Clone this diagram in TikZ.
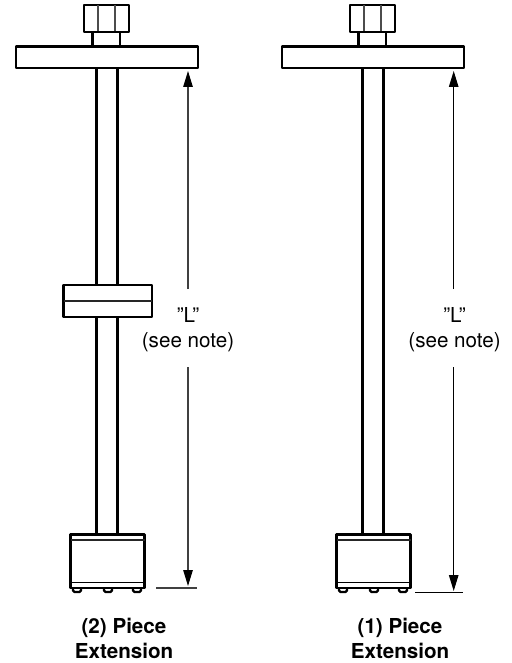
\documentclass[tikz,border=0pt]{standalone}
\usepackage{fontspec}
\setmainfont[Ligatures=NoCommon]{TeX Gyre Heros}
\usetikzlibrary{arrows.meta}
\tikzset{
  heavy/.style={draw=black,line width=2.3pt,line join=round,fill=white},
  nutline/.style={draw=black!70,line width=1.3pt},
  seam/.style={draw=black!85,line width=1.5pt},
  footline/.style={draw=black,line width=1.7pt},
  dimline/.style={draw=black!75,line width=1.1pt},
  dimarrow/.style={dimline,-{Triangle[length=16pt,width=9.5pt,black]}},
  dimarrowdark/.style={draw=black,line width=1.1pt,-{Triangle[length=16pt,width=9.5pt,black]}},
  dimtext/.style={align=center,font=\fontsize{20.6}{24.5}\selectfont,inner sep=0pt,text=black},
  captiontext/.style={align=center,font=\fontsize{20.6}{25}\selectfont\bfseries,inner sep=0pt,text=black},
}
\newcommand{\extension}[1]{%
  \begin{scope}[shift={(#1,0)}]
    \draw[heavy] (84,5) rectangle (129,32);
    \draw[nutline] (98,5) -- (98,32) (115,5) -- (115,32);
    \draw[heavy] (92.5,32) rectangle (120,46.5);
    \draw[heavy] (16,46.5) rectangle (198,68);
    \draw[heavy] (96.5,68) rectangle (117.5,534.5);
    \draw[heavy,rounded corners=1.5pt] (73,586) rectangle (81,592);
    \draw[heavy,rounded corners=1.5pt] (104,586) rectangle (112,592);
    \draw[heavy,rounded corners=1.5pt] (133,586) rectangle (141,592);
    \draw[heavy] (70.5,534.5) rectangle (144.5,588);
    \draw[seam] (70.5,540) -- (144.5,540);
    \draw[footline] (70.5,582.5) -- (144.5,582.5);
  \end{scope}}
\begin{document}
\begin{tikzpicture}[x=1pt,y=-1pt]
  \useasboundingbox (0,0) rectangle (511,663);
  \extension{0}
  \extension{266}
  % coupling on the two-piece extension
  \draw[heavy] (63.5,285) rectangle (152,317);
  \draw[seam] (63.5,301) -- (152,301);
  % left dimension
  \node[dimtext] (L1) at (188,329.5) {\symbol{34}L\symbol{34}\\(see note)};
  \coordinate (L1top) at (188,71);
  \coordinate (L1up) at (188,289);
  \coordinate (L1low) at (188,367);
  \coordinate (L1bot) at (188,586);
  \coordinate (E1a) at (156,588);
  \coordinate (E1b) at (197,588);
  \draw[dimarrow] (L1up) -- (L1top);
  \draw[dimarrow] (L1low) -- (L1bot);
  \draw[dimline] (E1a) -- (E1b);
  % right dimension
  \node[dimtext] (L2) at (454.5,329.5) {\symbol{34}L\symbol{34}\\(see note)};
  \coordinate (L2top) at (453.7,71);
  \coordinate (L2up) at (453.7,289);
  \coordinate (L2low) at (453.7,367);
  \coordinate (L2bot) at (453.7,591);
  \coordinate (E2a) at (415,592.5);
  \coordinate (E2b) at (463,592.5);
  \draw[dimarrowdark] (L2up) -- (L2top);
  \draw[dimarrowdark] (L2low) -- (L2bot);
  \draw[draw=black,line width=1.1pt] (E2a) -- (E2b);
  % captions
  \node[captiontext] (C1) at (124,638) {(2) Piece\\Extension};
  \node[captiontext] (C2) at (400,638) {(1) Piece\\Extension};
\end{tikzpicture}
\end{document}
